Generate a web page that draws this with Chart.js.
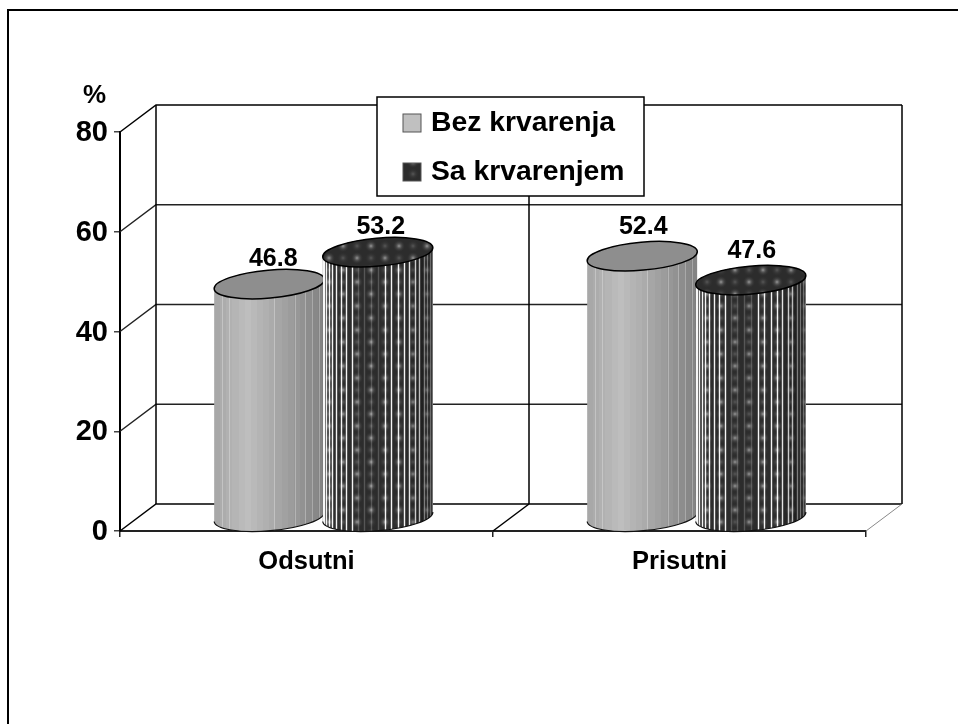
<!DOCTYPE html>
<html>
<head>
<meta charset="utf-8">
<title>Krvarenje</title>
<style>
  html, body { margin: 0; padding: 0; background: #fff; }
  canvas { display: block; }
</style>
</head>
<body>
<canvas id="chart" width="958" height="724"></canvas>
<script src="https://cdn.jsdelivr.net/npm/chart.js@4/dist/chart.umd.min.js"></script>
<script>
const categories = ['Odsutni', 'Prisutni'];
const bezKrvarenja = [46.8, 52.4];
const saKrvarenjem = [53.2, 47.6];
const yTicks = [0, 20, 40, 60, 80];

const FONT = '"Liberation Sans", Arial, sans-serif';
const DEPTH_X = 36;   // 3d box offset
const DEPTH_Y = 27;

// dark speckled texture, used for the top of the dark cylinders and the legend
function makeSpeckle() {
  const c = document.createElement('canvas');
  c.width = 28;
  c.height = 24;
  const g = c.getContext('2d');
  g.fillStyle = '#2c2c2c';
  g.fillRect(0, 0, 28, 24);
  [[7, 6], [21, 18], [21, 6], [7, 18]].forEach(([x, y], i) => {
    const r = g.createRadialGradient(x, y, 0, x, y, 6);
    const a = i < 2 ? 0.75 : 0.3;
    r.addColorStop(0, `rgba(190,190,190,${a})`);
    r.addColorStop(0.5, `rgba(110,110,110,${a * 0.5})`);
    r.addColorStop(1, 'rgba(60,60,60,0)');
    g.fillStyle = r;
    g.fillRect(x - 6, y - 6, 12, 12);
  });
  return c;
}
const speckle = makeSpeckle();

const boxPlugin = {
  id: 'box3d',
  beforeDatasetsDraw(chart) {
    const { ctx, scales: { x, y } } = chart;
    const left = x.left, right = x.right;
    const base = y.getPixelForValue(0);
    const top = y.getPixelForValue(80);
    ctx.save();
    ctx.strokeStyle = '#000';
    ctx.lineWidth = 1.5;
    // side wall diagonals and back wall grid
    yTicks.forEach(v => {
      const py = y.getPixelForValue(v);
      ctx.strokeStyle = v === 0 || v === 80 ? '#000' : '#222';
      ctx.beginPath();
      ctx.moveTo(left, py);
      ctx.lineTo(left + DEPTH_X, py - DEPTH_Y);
      ctx.lineTo(right + DEPTH_X, py - DEPTH_Y);
      ctx.stroke();
    });
    ctx.strokeStyle = '#000';
    ctx.beginPath();
    ctx.moveTo(left + DEPTH_X, top - DEPTH_Y);
    ctx.lineTo(left + DEPTH_X, base - DEPTH_Y);
    ctx.moveTo(right + DEPTH_X, top - DEPTH_Y);
    ctx.lineTo(right + DEPTH_X, base - DEPTH_Y);
    const mid = (left + right) / 2;
    ctx.moveTo(mid + DEPTH_X, top - DEPTH_Y);
    ctx.lineTo(mid + DEPTH_X, base - DEPTH_Y);
    ctx.moveTo(mid, base);
    ctx.lineTo(mid + DEPTH_X, base - DEPTH_Y);
    ctx.stroke();
    ctx.strokeStyle = '#888';
    ctx.lineWidth = 1;
    ctx.beginPath();
    ctx.moveTo(right, base);
    ctx.lineTo(right + DEPTH_X, base - DEPTH_Y);
    ctx.stroke();
    ctx.restore();
  }
};

function sidePath(ctx, cx, yTop, yBase, rx, ry, rot) {
  ctx.beginPath();
  ctx.ellipse(cx, yBase, rx, ry, rot, Math.PI, 0, true);
  ctx.ellipse(cx, yTop, rx, ry, rot, 0, Math.PI, true);
  ctx.closePath();
}

function lightSideFill(ctx, cx, rx) {
  const grad = ctx.createLinearGradient(cx - rx, 0, cx + rx, 0);
  const bands = 18;
  for (let i = 0; i < bands; i++) {
    const t = i / bands;
    let v = t < 0.28 ? 168 + t * 80 : 190 - (t - 0.28) * 88;
    v = Math.round(v);
    const col = `rgb(${v},${v},${v})`;
    grad.addColorStop(t, col);
    grad.addColorStop((i + 1) / bands, col);
  }
  return grad;
}

function drawLightStreaks(ctx, cx, rx, yTop, yBase, ry) {
  [-0.86, -0.72, 0.08, 0.46, 0.64, 0.78, 0.9].forEach(t => {
    const px = Math.round(cx + rx * t) + 0.5;
    ctx.strokeStyle = 'rgba(255,255,255,0.28)';
    ctx.lineWidth = 1;
    ctx.beginPath();
    ctx.moveTo(px, yTop - ry);
    ctx.lineTo(px, yBase + ry);
    ctx.stroke();
  });
}

function drawDarkSide(ctx, cx, rx, yTop, yBase, ry) {
  ctx.fillStyle = ctx.createPattern(speckle, 'repeat');
  ctx.fillRect(cx - rx, yTop - ry - 6, rx * 2, yBase - yTop + ry * 2 + 12);
  // white stripes bunch up toward the edges, like a texture wrapped on the cylinder
  for (let deg = -84; deg <= 84; deg += 7) {
    const px = Math.round(cx + rx * Math.sin(deg * Math.PI / 180)) + 0.5;
    const dim = deg > -24 && deg < 4 ? 0.2 : deg > 50 ? 0.65 : 0.95;
    ctx.strokeStyle = `rgba(255,255,255,${dim})`;
    ctx.lineWidth = 1.4;
    ctx.beginPath();
    ctx.moveTo(px, yTop - ry - 6);
    ctx.lineTo(px, yBase + ry + 6);
    ctx.stroke();
  }
  const shade = ctx.createLinearGradient(cx - rx, 0, cx + rx, 0);
  shade.addColorStop(0, 'rgba(0,0,0,0)');
  shade.addColorStop(0.75, 'rgba(0,0,0,0)');
  shade.addColorStop(1, 'rgba(0,0,0,0.45)');
  ctx.fillStyle = shade;
  ctx.fillRect(cx - rx, yTop - ry - 6, rx * 2, yBase - yTop + ry * 2 + 12);
}

const cylinderPlugin = {
  id: 'cylinders',
  afterDatasetsDraw(chart) {
    const { ctx, data } = chart;
    const rot = -5 * Math.PI / 180;
    const ry = 14;
    const lift = [25, 29];      // label distance above the cylinder top, per category
    const nudge = [[4, 3], [1, 1]];
    data.datasets.forEach((ds, di) => {
      chart.getDatasetMeta(di).data.forEach((bar, i) => {
        const cx = bar.x + DEPTH_X / 2 - 1;
        const yTop = bar.y - DEPTH_Y / 2;
        const yBase = bar.base - DEPTH_Y / 2;
        const rx = bar.width / 2 + 1;

        ctx.save();
        sidePath(ctx, cx, yTop, yBase, rx, ry, rot);
        ctx.save();
        ctx.clip();
        if (di === 0) {
          ctx.fillStyle = lightSideFill(ctx, cx, rx);
          ctx.fillRect(cx - rx, yTop - ry - 6, rx * 2, yBase - yTop + ry * 2 + 12);
          drawLightStreaks(ctx, cx, rx, yTop, yBase, ry);
        } else {
          drawDarkSide(ctx, cx, rx, yTop, yBase, ry);
        }
        ctx.restore();

        // bottom rim only, the cylinder sides have no hard outline
        ctx.strokeStyle = '#111';
        ctx.lineWidth = 1.2;
        ctx.beginPath();
        ctx.ellipse(cx, yBase, rx, ry, rot, Math.PI, 0, true);
        ctx.stroke();

        ctx.beginPath();
        ctx.ellipse(cx, yTop, rx, ry, rot, 0, Math.PI * 2);
        ctx.fillStyle = di === 0 ? '#8e8e8e' : ctx.createPattern(speckle, 'repeat');
        ctx.fill();
        ctx.strokeStyle = '#000';
        ctx.lineWidth = 1.5;
        ctx.stroke();

        ctx.fillStyle = '#000';
        ctx.font = 'bold 25px ' + FONT;
        ctx.textAlign = 'center';
        ctx.textBaseline = 'middle';
        ctx.fillText(ds.data[i].toFixed(1), cx + nudge[i][di], yTop - lift[i]);
        ctx.restore();
      });
    });
  }
};

const legendBoxPlugin = {
  id: 'legendBox',
  afterDraw(chart) {
    const { ctx, data } = chart;
    ctx.save();
    ctx.fillStyle = '#fff';
    ctx.fillRect(377, 97, 267, 99);
    ctx.strokeStyle = '#000';
    ctx.lineWidth = 1.5;
    ctx.strokeRect(377, 97, 267, 99);
    data.datasets.forEach((ds, i) => {
      const cy = 123 + i * 49;
      ctx.fillStyle = i === 0 ? '#c0c0c0' : ctx.createPattern(speckle, 'repeat');
      ctx.fillRect(403, cy - 9, 18, 18);
      ctx.strokeStyle = '#555';
      ctx.lineWidth = 1;
      ctx.strokeRect(403, cy - 9, 18, 18);
      ctx.fillStyle = '#000';
      ctx.font = 'bold 28.3px ' + FONT;
      ctx.textAlign = 'left';
      ctx.textBaseline = 'middle';
      ctx.fillText(ds.label, 431, cy);
    });
    // % over the y axis
    ctx.font = 'bold 26px ' + FONT;
    ctx.textAlign = 'center';
    ctx.fillText('%', 94.5, 96);
    // page frame, open on the right and at the bottom
    ctx.strokeStyle = '#000';
    ctx.lineWidth = 2;
    ctx.beginPath();
    ctx.moveTo(8, 724);
    ctx.lineTo(8, 10);
    ctx.lineTo(958, 10);
    ctx.stroke();
    ctx.restore();
  }
};

new Chart(document.getElementById('chart'), {
  type: 'bar',
  data: {
    labels: categories,
    datasets: [
      { label: 'Bez krvarenja', data: bezKrvarenja, backgroundColor: 'transparent' },
      { label: 'Sa krvarenjem', data: saKrvarenjem, backgroundColor: 'transparent' }
    ]
  },
  plugins: [boxPlugin, cylinderPlugin, legendBoxPlugin],
  options: {
    responsive: false,
    animation: false,
    layout: { padding: { top: 132, right: 92, left: 0, bottom: 0 } },
    categoryPercentage: 0.582,
    barPercentage: 1,
    plugins: {
      legend: { display: false },
      tooltip: { enabled: false }
    },
    scales: {
      x: {
        afterFit: s => { s.height = 193; },
        grid: { drawOnChartArea: false, drawTicks: true, tickLength: 6, color: '#222', lineWidth: 1.5 },
        border: { color: '#222', width: 2 },
        ticks: { color: '#000', padding: 10, maxRotation: 0, font: { family: FONT, size: 25.5, weight: 'bold' } }
      },
      y: {
        min: 0,
        max: 80,
        afterFit: s => { s.width = 120; },
        afterBuildTicks: s => { s.ticks = yTicks.map(value => ({ value })); },
        grid: { drawOnChartArea: false, drawTicks: true, tickLength: 6, color: '#444', lineWidth: 1.5 },
        border: { color: '#000', width: 2 },
        ticks: { color: '#000', padding: 6, labelOffset: 1, font: { family: FONT, size: 29, weight: 'bold' } }
      }
    }
  }
});
</script>
</body>
</html>
